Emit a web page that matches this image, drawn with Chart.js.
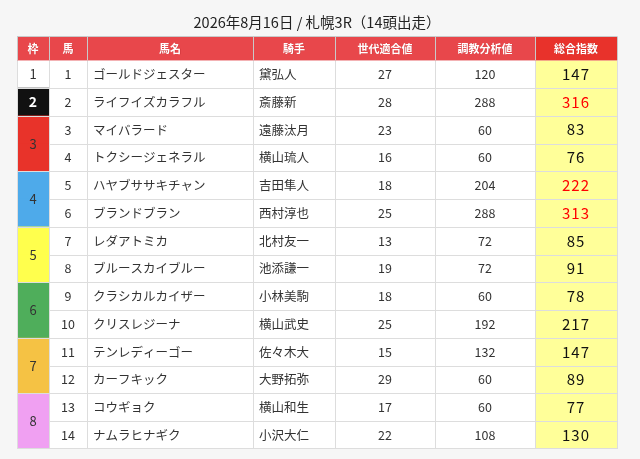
<!DOCTYPE html>
<html>
<head>
<meta charset="utf-8">
<script src="https://cdn.jsdelivr.net/npm/chart.js@4/dist/chart.umd.min.js"></script>
<style>
    html, body { margin: 0; padding: 0; background: #f6f6f6; }
    #wrap { width: 640px; height: 459px; }
</style>
</head>
<body>
<div id="wrap"><canvas id="race-table"></canvas></div>
<script>
const titleText = "2026年8月16日 / 札幌3R（14頭出走）";
const headings = ["枠", "馬", "馬名", "騎手", "世代適合値", "調教分析値", "総合指数"];

const frameNums = [1, 2, 3, 3, 4, 4, 5, 5, 6, 6, 7, 7, 8, 8];
const horseNums = [1, 2, 3, 4, 5, 6, 7, 8, 9, 10, 11, 12, 13, 14];
const horseNames = ["ゴールドジェスター", "ライフイズカラフル", "マイバラード", "トクシージェネラル",
    "ハヤブササキチャン", "ブランドブラン", "レダアトミカ", "ブルースカイブルー",
    "クラシカルカイザー", "クリスレジーナ", "テンレディーゴー", "カーフキック",
    "コウギョク", "ナムラヒナギク"];
const jockeys = ["黛弘人", "斎藤新", "遠藤汰月", "横山琉人", "吉田隼人", "西村淳也", "北村友一",
    "池添謙一", "小林美駒", "横山武史", "佐々木大", "大野拓弥", "横山和生", "小沢大仁"];
const ageScores = [27, 28, 23, 16, 18, 25, 13, 19, 18, 25, 15, 29, 17, 22];
const trainScores = [120, 288, 60, 60, 204, 288, 72, 72, 60, 192, 132, 60, 60, 108];
const totalScores = [147, 316, 83, 76, 222, 313, 85, 91, 78, 217, 147, 89, 77, 130];

// layout / style (not data)
const colWidths = [32, 38, 166, 82, 100, 100, 82];
const colAlign = ["center", "center", "left", "left", "center", "center", "center"];
const headerHeight = 24;
const frameColors = {1: "#ffffff", 2: "#111111", 3: "#e8332a", 4: "#4eaaea", 5: "#ffff4d", 6: "#4fae5b", 7: "#f5c244", 8: "#f0a0f2"};
const fontFamily = "'Noto Sans CJK JP', 'Noto Sans', sans-serif";

const columns = [frameNums, horseNums, horseNames, jockeys, ageScores, trainScores, totalScores];

function cellColor(col, i) {
    if (col === 0) return frameColors[frameNums[i]];
    if (col === 6) return "#ffff99";
    return "#ffffff";
}

const datasets = columns.map((values, col) => ({
    label: headings[col],
    data: values.map(() => colWidths[col]),
    backgroundColor: values.map((v, i) => cellColor(col, i)),
    borderWidth: 0,
    barPercentage: 1,
    categoryPercentage: 1
}));

// grid lines, header row and cell texts
const tablePlugin = {
    id: "tablePlugin",
    beforeDraw(chart) {
        const ctx = chart.ctx;
        ctx.save();
        ctx.fillStyle = "#f6f6f6";
        ctx.fillRect(0, 0, chart.width, chart.height);
        ctx.restore();
    },
    afterDatasetsDraw(chart) {
        const ctx = chart.ctx;
        const xScale = chart.scales.x;
        const area = chart.chartArea;
        const n = horseNums.length;

        // column edges through the x scale
        const edges = [xScale.getPixelForValue(0)];
        let acc = 0;
        colWidths.forEach(w => { acc += w; edges.push(xScale.getPixelForValue(acc)); });

        const frameMeta = chart.getDatasetMeta(0);
        const rowTop = i => { const el = frameMeta.data[i]; return el.y - el.height / 2; };
        const rowBottom = i => { const el = frameMeta.data[i]; return el.y + el.height / 2; };

        ctx.save();
        ctx.strokeStyle = "#dddddd";
        ctx.lineWidth = 1;

        // horizontal lines between rows
        for (let i = 0; i < n - 1; i++) {
            const y = Math.round((rowBottom(i) + rowTop(i + 1)) / 2) + 0.5;
            const startX = frameNums[i] === frameNums[i + 1] ? edges[1] : edges[0];
            ctx.beginPath();
            ctx.moveTo(startX, y);
            ctx.lineTo(edges[edges.length - 1], y);
            ctx.stroke();
        }
        // vertical lines
        edges.forEach(x => {
            const px = Math.round(x) + 0.5;
            ctx.beginPath();
            ctx.moveTo(px, area.top);
            ctx.lineTo(px, area.bottom);
            ctx.stroke();
        });
        const bottomY = Math.round(area.bottom) - 0.5;
        ctx.beginPath();
        ctx.moveTo(edges[0], bottomY);
        ctx.lineTo(edges[edges.length - 1], bottomY);
        ctx.stroke();

        // header row
        const hTop = area.top - headerHeight;
        for (let c = 0; c < headings.length; c++) {
            ctx.fillStyle = c === headings.length - 1 ? "#e8322b" : "#e8474b";
            ctx.fillRect(edges[c], hTop, edges[c + 1] - edges[c], headerHeight);
        }
        ctx.strokeStyle = "#c9c9c9";
        for (let c = 0; c <= headings.length; c++) {
            const px = Math.round(edges[c]) + 0.5;
            ctx.beginPath();
            ctx.moveTo(px, hTop);
            ctx.lineTo(px, area.top);
            ctx.stroke();
        }
        ctx.beginPath();
        ctx.moveTo(edges[0], Math.round(hTop) + 0.5);
        ctx.lineTo(edges[edges.length - 1], Math.round(hTop) + 0.5);
        ctx.stroke();

        ctx.textBaseline = "middle";
        ctx.textAlign = "center";
        ctx.font = "bold 11px " + fontFamily;
        headings.forEach((h, c) => {
            const cx = (edges[c] + edges[c + 1]) / 2;
            ctx.fillStyle = "rgba(120,0,0,0.35)";
            ctx.fillText(h, cx + 0.6, hTop + headerHeight / 2 + 0.6);
            ctx.fillStyle = "#ffffff";
            ctx.fillText(h, cx, hTop + headerHeight / 2);
        });

        // cell texts
        columns.forEach((values, col) => {
            const meta = chart.getDatasetMeta(col);
            values.forEach((v, i) => {
                const el = meta.data[i];
                const left = Math.min(el.base, el.x);
                const right = Math.max(el.base, el.x);
                let y = el.y;
                if (col === 0) {
                    // merged frame cells: draw once at group centre
                    if (i > 0 && frameNums[i - 1] === v) return;
                    if (i < n - 1 && frameNums[i + 1] === v) y = (el.y + meta.data[i + 1].y) / 2;
                    ctx.font = (v === 2 ? "bold 14px " : "13px ") + fontFamily;
                    ctx.fillStyle = v === 2 ? "#ffffff" : "#333333";
                } else if (col === 6) {
                    ctx.font = "15px " + fontFamily;
                    ctx.fillStyle = v >= 220 ? "#ff0000" : "#111111";
                } else {
                    ctx.font = "12.5px " + fontFamily;
                    ctx.fillStyle = "#333333";
                }
                ctx.letterSpacing = col === 6 ? "1px" : "0px";
                if (colAlign[col] === "left") {
                    ctx.textAlign = "left";
                    ctx.fillText(String(v), left + 6, y);
                } else {
                    ctx.textAlign = "center";
                    ctx.fillText(String(v), (left + right) / 2, y);
                }
            });
        });
        ctx.restore();
    }
};

new Chart(document.getElementById("race-table"), {
    type: "bar",
    data: {
        labels: horseNums.map(String),
        datasets: datasets
    },
    options: {
        indexAxis: "y",
        responsive: true,
        maintainAspectRatio: false,
        animation: false,
        events: [],
        layout: { padding: { left: 17, right: 23, top: 0, bottom: 10 } },
        scales: {
            x: { stacked: true, display: false, min: 0, max: colWidths.reduce((a, b) => a + b, 0) },
            y: { stacked: true, display: false }
        },
        plugins: {
            legend: { display: false },
            tooltip: { enabled: false },
            title: {
                display: true,
                text: titleText,
                color: "#222222",
                font: { family: fontFamily, size: 14.5, weight: "normal" },
                padding: { top: 14, bottom: 29 }
            }
        }
    },
    plugins: [tablePlugin]
});
</script>
</body>
</html>
